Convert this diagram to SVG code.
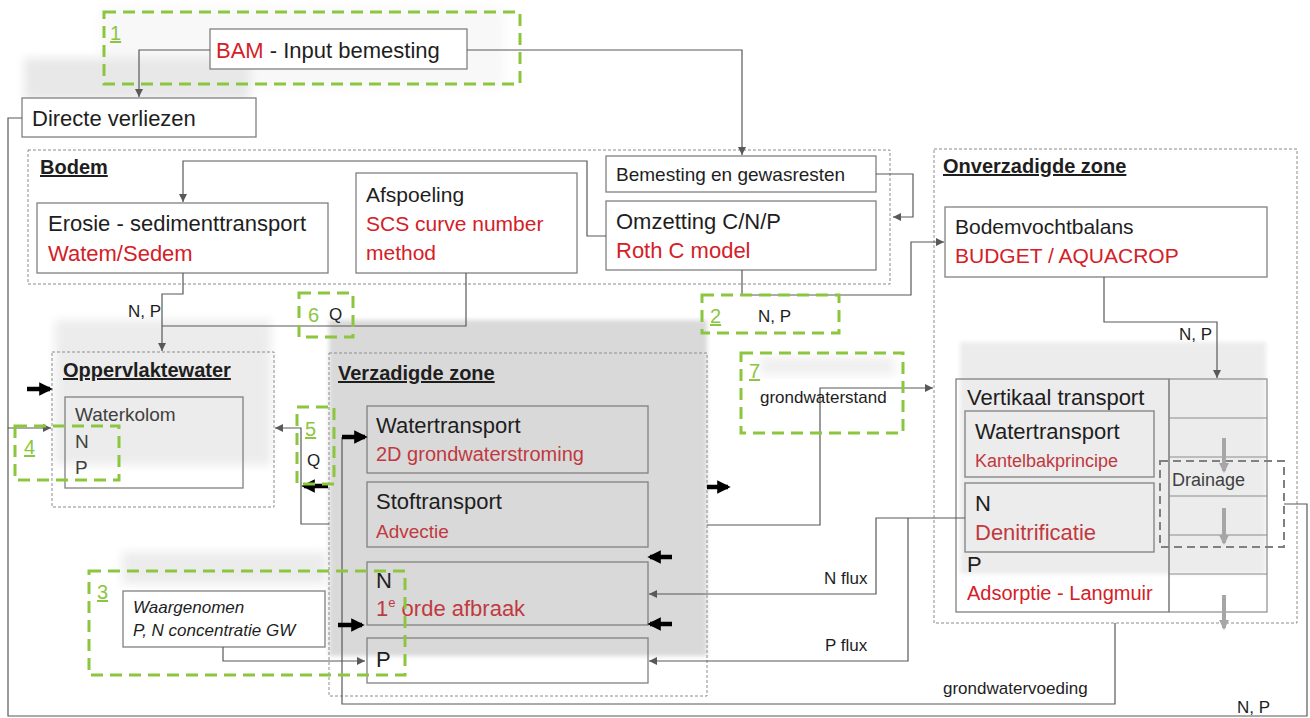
<svg xmlns="http://www.w3.org/2000/svg" width="1310" height="718" viewBox="0 0 1310 718">
  <defs>
    <style>
      text { font-family: "Liberation Sans", Arial, sans-serif; fill: #1e1e1e; }
      .t22 { font-size: 22px; }
      .t21 { font-size: 21px; }
      .t20 { font-size: 20px; }
      .t19 { font-size: 19px; }
      .t18 { font-size: 18px; }
      .t17 { font-size: 17px; }
      .red { fill: #d42027; }
      .redg { fill: #c0393f; }
      .head { font-size: 20px; font-weight: bold; text-decoration: underline; }
      .box { fill: none; stroke: #808080; stroke-width: 1.3; }
      .boxw { fill: #ffffff; stroke: #808080; stroke-width: 1.3; }
      .zone { fill: none; stroke: #8c8c8c; stroke-width: 1; stroke-dasharray: 3 2; }
      .green { fill: none; stroke: #8cc63f; stroke-width: 3; stroke-dasharray: 12 7; }
      .gnum { font-size: 20px; fill: #8cc63f; }
      .link { fill: none; stroke: #595959; stroke-width: 1.2; }
      .thick { fill: none; stroke: #000; stroke-width: 4.5; }
      .grayarrow { fill: none; stroke: #a6a6a6; stroke-width: 4; }
      .layer { fill: none; stroke: #8c8c8c; stroke-width: 1.2; }
    </style>
    <marker id="tip" viewBox="0 0 10 10" refX="10" refY="5" markerWidth="8" markerHeight="8" markerUnits="userSpaceOnUse" orient="auto">
      <path d="M0,0 L10,5 L0,10 z" fill="#595959"/>
    </marker>
    <marker id="blacktip" viewBox="0 0 10 10" refX="8" refY="5" markerWidth="3" markerHeight="3" orient="auto">
      <path d="M0,0 L10,5 L0,10 z" fill="#000"/>
    </marker>
    <marker id="graytip" viewBox="0 0 10 10" refX="8" refY="5" markerWidth="2.5" markerHeight="2.5" orient="auto">
      <path d="M0,0 L10,5 L0,10 z" fill="#a6a6a6"/>
    </marker>
    <filter id="soft" x="-20%" y="-20%" width="140%" height="140%">
      <feGaussianBlur stdDeviation="5"/>
    </filter>
    <filter id="softer" x="-10%" y="-10%" width="120%" height="120%">
      <feGaussianBlur stdDeviation="2"/>
    </filter>
  </defs>

  <rect x="0" y="0" width="1310" height="718" fill="#ffffff"/>

  <!-- soft grey backdrops -->
  <g id="backdrops">
    <rect x="100" y="8" width="405" height="80" fill="#f8f8f8" filter="url(#soft)"/>
    <rect x="24" y="58" width="226" height="42" fill="#e8e8e8" filter="url(#soft)"/>
    <rect x="55" y="320" width="216" height="145" fill="#ececec" filter="url(#soft)"/>
    <rect x="329" y="320" width="378" height="336" fill="#d9d9d9" filter="url(#softer)"/>
    <rect x="122" y="552" width="205" height="32" fill="#ececec" filter="url(#soft)"/>
    <rect x="960" y="342" width="306" height="232" fill="#ececec" filter="url(#softer)"/>
    <rect x="760" y="357" width="135" height="18" fill="#f0f0f0" filter="url(#soft)"/>
  </g>

  <!-- zone containers -->
  <g id="zone-bodem">
    <rect class="zone" x="28" y="150" width="862" height="134"/>
    <text class="head" x="40" y="174">Bodem</text>
  </g>
  <g id="zone-onverzadigd">
    <rect class="zone" x="934" y="149" width="363" height="474"/>
    <text class="head" x="943" y="173">Onverzadigde zone</text>
  </g>
  <g id="zone-oppervlaktewater">
    <rect class="zone" x="52" y="352" width="222" height="155"/>
    <text class="head" x="63" y="377">Oppervlaktewater</text>
  </g>
  <g id="zone-verzadigd">
    <rect class="zone" x="329" y="353" width="378" height="343"/>
    <text class="head" x="338" y="380">Verzadigde zone</text>
  </g>

  <!-- nodes -->
  <g id="bam">
    <rect class="boxw" x="210" y="29" width="257" height="40"/>
    <text class="t22" x="216" y="58"><tspan class="red">BAM</tspan> - Input bemesting</text>
  </g>
  <g id="directe-verliezen">
    <rect class="boxw" x="22" y="98" width="234" height="39"/>
    <text class="t22" x="32" y="126">Directe verliezen</text>
  </g>
  <g id="erosie">
    <rect class="boxw" x="37" y="203" width="291" height="70"/>
    <text class="t22" x="48" y="231">Erosie - sedimenttransport</text>
    <text class="t22 red" x="48" y="261">Watem/Sedem</text>
  </g>
  <g id="afspoeling">
    <rect class="boxw" x="356" y="173" width="221" height="100"/>
    <text class="t21" x="366" y="202">Afspoeling</text>
    <text class="t21 red" x="366" y="231">SCS curve number</text>
    <text class="t21 red" x="366" y="260">method</text>
  </g>
  <g id="bemesting">
    <rect class="boxw" x="606" y="156" width="270" height="36"/>
    <text class="t19" x="616" y="181">Bemesting  en gewasresten</text>
  </g>
  <g id="omzetting">
    <rect class="boxw" x="606" y="201" width="270" height="69"/>
    <text class="t22" x="616" y="229">Omzetting C/N/P</text>
    <text class="t22 red" x="616" y="258">Roth C model</text>
  </g>
  <g id="bodemvochtbalans">
    <rect class="boxw" x="945" y="207" width="322" height="70"/>
    <text class="t21" x="955" y="234">Bodemvochtbalans</text>
    <text class="t21 red" x="955" y="263">BUDGET / AQUACROP</text>
  </g>
  <g id="waterkolom">
    <rect class="box" x="65" y="397" width="178" height="91"/>
    <text class="t19" x="75" y="421" style="fill:#404040">Waterkolom</text>
    <text class="t19" x="75" y="448" style="fill:#404040">N</text>
    <text class="t19" x="75" y="474" style="fill:#404040">P</text>
  </g>
  <g id="watertransport-gw">
    <rect class="box" x="367" y="406" width="281" height="67"/>
    <text class="t22" x="376" y="433">Watertransport</text>
    <text class="t20 redg" x="376" y="461">2D grondwaterstroming</text>
  </g>
  <g id="stoftransport">
    <rect class="box" x="367" y="482" width="281" height="65"/>
    <text class="t22" x="376" y="509">Stoftransport</text>
    <text class="t19 redg" x="376" y="538">Advectie</text>
  </g>
  <g id="afbraak">
    <rect class="box" x="367" y="562" width="281" height="63"/>
    <text class="t22" x="376" y="588">N</text>
    <text class="t22 redg" x="376" y="616">1<tspan font-size="13" dy="-9">e</tspan><tspan dy="9"> orde afbraak</tspan></text>
  </g>
  <g id="p-verzadigd">
    <rect class="box" x="367" y="638" width="281" height="45"/>
    <text class="t22" x="376" y="667">P</text>
  </g>
  <g id="waargenomen">
    <rect class="boxw" x="123" y="591" width="202" height="56"/>
    <text class="t17" x="133" y="613" font-style="italic">Waargenomen</text>
    <text class="t17" x="133" y="636" font-style="italic">P, N concentratie GW</text>
  </g>
  <g id="vertikaal-transport">
    <rect class="box" x="956" y="379" width="213" height="233"/>
    <text class="t22" x="967" y="405">Vertikaal transport</text>
  </g>
  <g id="watertransport-oz">
    <rect class="box" x="965" y="411" width="189" height="66"/>
    <text class="t22" x="975" y="439">Watertransport</text>
    <text class="t18 redg" x="975" y="467">Kantelbakprincipe</text>
  </g>
  <g id="denitrificatie">
    <rect class="box" x="965" y="483" width="189" height="69"/>
    <text class="t22" x="975" y="511">N</text>
    <text class="t22 redg" x="975" y="540">Denitrificatie</text>
  </g>
  <g id="adsorptie">
    <text class="t22" x="967" y="572">P</text>
    <text class="t20 red" x="967" y="600">Adsorptie - Langmuir</text>
  </g>
  <g id="bodemlagen">
    <rect class="layer" x="1169" y="379" width="98" height="233"/>
    <path class="layer" d="M1169,418 H1267 M1169,457 H1267 M1169,496 H1267 M1169,535 H1267 M1169,574 H1267"/>
  </g>
  <g id="drainage">
    <rect x="1160" y="461" width="124" height="86" fill="none" stroke="#808080" stroke-width="2" stroke-dasharray="8 5"/>
    <text class="t18" x="1172" y="486" style="fill:#404040">Drainage</text>
  </g>

  <!-- connectors -->
  <g id="connectors">
    <path class="link" d="M210,50 H139 V97" marker-end="url(#tip)"/>
    <path class="link" d="M467,50 H742 V155" marker-end="url(#tip)"/>
    <path class="link" d="M22,118 H8 V428"/>
    <path class="link" d="M1284,504 H1307 V716 H8 V428 H51" marker-end="url(#tip)"/>
    <path class="link" d="M606,236 H587 V161 H183 V202" marker-end="url(#tip)"/>
    <path class="link" d="M876,174 H913 V217 H893" marker-end="url(#tip)"/>
    <path class="link" d="M742,270 V295 H911 V242 H944" marker-end="url(#tip)"/>
    <path class="link" d="M183,273 V294 H162 V351" marker-end="url(#tip)"/>
    <path class="link" d="M466,273 V326 H162"/>
    <path class="link" d="M1104,277 V322 H1217 V378" marker-end="url(#tip)"/>
    <path class="link" d="M707,525 H820 V388 H933" marker-end="url(#tip)"/>
    <path class="link" d="M329,524 H301 V428 H275" marker-end="url(#tip)"/>
    <path class="link" d="M965,518 H876 V594 H649" marker-end="url(#tip)"/>
    <path class="link" d="M908,518 V661 H649" marker-end="url(#tip)"/>
    <path class="link" d="M223,647 V661 H365" marker-end="url(#tip)"/>
    <path class="link" d="M1115,623 V704 H342 V437"/>

    <!-- bold flux arrows -->
    <path class="thick" d="M27,389 H50" marker-end="url(#blacktip)"/>
    <path class="thick" d="M328,486 H304" marker-end="url(#blacktip)"/>
    <path class="thick" d="M342,437 H365" marker-end="url(#blacktip)"/>
    <path class="thick" d="M338,625 H362" marker-end="url(#blacktip)"/>
    <path class="thick" d="M707,487 H728" marker-end="url(#blacktip)"/>
    <path class="thick" d="M672,557 H650" marker-end="url(#blacktip)"/>
    <path class="thick" d="M672,624 H650" marker-end="url(#blacktip)"/>

    <!-- percolation through the layers -->
    <path class="grayarrow" d="M1224,438 V471" marker-end="url(#graytip)"/>
    <path class="grayarrow" d="M1224,508 V543" marker-end="url(#graytip)"/>
    <path class="grayarrow" d="M1224,595 V628" marker-end="url(#graytip)"/>
  </g>

  <!-- connector labels -->
  <g id="labels">
    <text class="t17" x="128" y="317">N, P</text>
    <text class="t17" x="329" y="320">Q</text>
    <text class="t17" x="758" y="322">N, P</text>
    <text class="t17" x="1179" y="340">N, P</text>
    <text class="t17" x="307" y="466">Q</text>
    <text class="t17" x="760" y="403">grondwaterstand</text>
    <text class="t17" x="824" y="584">N flux</text>
    <text class="t17" x="825" y="651">P flux</text>
    <text class="t17" x="943" y="694">grondwatervoeding</text>
    <text class="t17" x="1237" y="713">N, P</text>
  </g>

  <!-- numbered green markers -->
  <g id="marker-1">
    <rect class="green" x="104" y="12" width="416" height="72"/>
    <text class="gnum" x="110" y="40" text-decoration="underline">1</text>
  </g>
  <g id="marker-2">
    <rect class="green" x="702" y="295" width="137" height="38"/>
    <text class="gnum" x="710" y="323" text-decoration="underline">2</text>
  </g>
  <g id="marker-3">
    <rect class="green" x="89" y="571" width="316" height="104"/>
    <text class="gnum" x="97" y="599" text-decoration="underline">3</text>
  </g>
  <g id="marker-4">
    <rect class="green" x="15" y="426" width="104" height="54"/>
    <text class="gnum" x="24" y="454" text-decoration="underline">4</text>
  </g>
  <g id="marker-5">
    <rect class="green" x="297" y="407" width="37" height="77"/>
    <text class="gnum" x="305" y="436" text-decoration="underline">5</text>
  </g>
  <g id="marker-6">
    <rect class="green" x="299" y="293" width="54" height="44"/>
    <text class="gnum" x="308" y="322">6</text>
  </g>
  <g id="marker-7">
    <rect class="green" x="741" y="353" width="162" height="80"/>
    <text class="gnum" x="749" y="378" text-decoration="underline">7</text>
  </g>
</svg>
